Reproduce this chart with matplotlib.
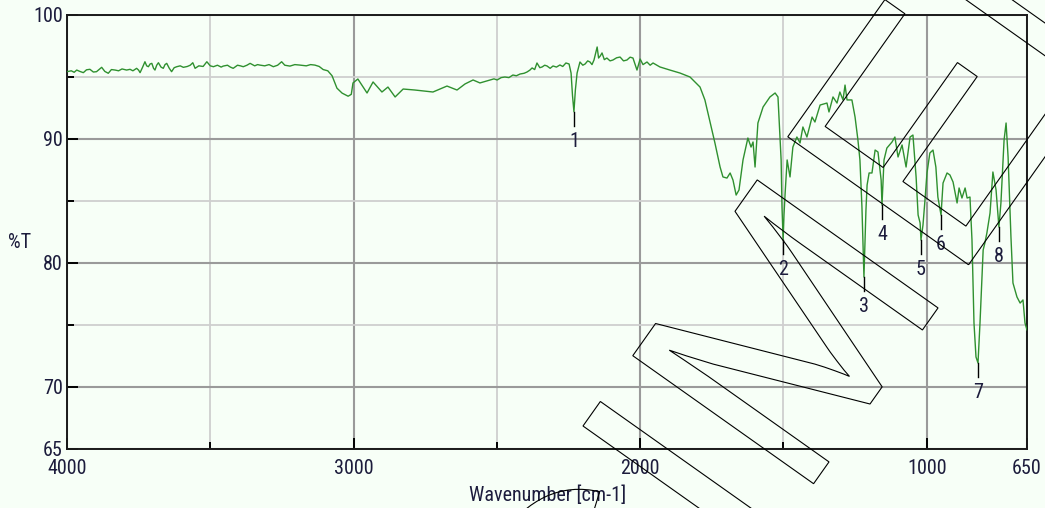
import numpy as np
import matplotlib
matplotlib.use("Agg")
import matplotlib.pyplot as plt
from matplotlib import font_manager
from matplotlib.textpath import TextPath
from matplotlib.font_manager import FontProperties
from matplotlib.patches import PathPatch
from matplotlib.transforms import Affine2D
from matplotlib.patheffects import AbstractPathEffect

# ---------------- data ----------------
wavenumber = [
    4000, 3985, 3975, 3966, 3955, 3943, 3932, 3920, 3908, 3897, 3888, 3879, 3868, 3856,
    3845, 3832, 3820, 3808, 3792, 3780, 3770, 3757, 3750, 3745, 3736, 3728, 3722, 3716,
    3710, 3704, 3698, 3693, 3687, 3681, 3672, 3664, 3658, 3652, 3643, 3635, 3626, 3617,
    3605, 3594, 3580, 3570, 3561, 3553, 3540, 3525, 3512, 3500, 3489, 3475, 3462, 3455,
    3440, 3430, 3420, 3405, 3395, 3385, 3372, 3361, 3345, 3335, 3327, 3310, 3295, 3280,
    3265, 3251, 3240, 3222, 3205, 3187, 3165, 3150, 3135, 3120, 3106, 3090, 3075, 3058,
    3040, 3019, 3008, 3002, 2985, 2953, 2932, 2901, 2880, 2855, 2827, 2786, 2723, 2674,
    2639, 2611, 2583, 2559, 2524, 2510, 2499, 2485, 2472, 2458, 2444, 2432, 2419, 2405,
    2395, 2385, 2377, 2368, 2360, 2350, 2342, 2333, 2325, 2314, 2304, 2292, 2280, 2270,
    2259, 2248, 2241, 2236, 2231, 2226, 2220, 2210, 2200, 2192, 2183, 2175, 2168, 2161,
    2150, 2145, 2139, 2133, 2125, 2116, 2105, 2095, 2082, 2070, 2058, 2046, 2035, 2025,
    2011, 2000, 1990, 1976, 1965, 1955, 1931, 1896, 1861, 1826, 1791, 1774, 1756, 1739,
    1721, 1711, 1697, 1686, 1676, 1665, 1655, 1641, 1624, 1613, 1606, 1599, 1589, 1571,
    1547, 1529, 1519, 1508, 1505, 1501, 1498, 1494, 1487, 1477, 1467, 1453, 1442, 1432,
    1418, 1400, 1390, 1372, 1348, 1341, 1327, 1313, 1303, 1292, 1285, 1278, 1261, 1250,
    1240, 1233, 1226, 1219, 1212, 1208, 1201, 1191, 1180, 1170, 1159, 1156, 1149, 1139,
    1121, 1111, 1100, 1086, 1072, 1058, 1048, 1037, 1030, 1023, 1020, 1013, 1006, 999,
    989, 978, 968, 961, 950, 943, 929, 919, 908, 894, 887, 877, 866, 859,
    849, 842, 835, 828, 821, 814, 803, 797, 790, 779, 769, 758, 748, 741,
    730, 723, 716, 706, 699, 685, 674, 664, 657, 650,
]
transmittance = [
    95.43, 95.50, 95.38, 95.56, 95.45, 95.35, 95.58, 95.62, 95.40, 95.43, 95.60, 95.78, 95.45, 95.30,
    95.60, 95.56, 95.50, 95.65, 95.56, 95.62, 95.50, 95.70, 95.55, 95.35, 95.80, 96.23, 95.90, 95.83,
    96.05, 96.10, 95.70, 95.56, 95.95, 96.15, 95.80, 95.70, 96.00, 96.10, 95.70, 95.43, 95.75, 95.83,
    95.90, 95.78, 95.85, 95.95, 96.15, 95.70, 95.90, 95.85, 96.23, 95.90, 95.83, 95.95, 95.80, 95.88,
    95.95, 95.80, 95.70, 95.95, 95.90, 95.83, 95.95, 96.10, 95.90, 96.00, 95.96, 95.90, 96.00, 95.83,
    95.95, 96.23, 95.95, 95.88, 96.00, 95.96, 95.90, 96.00, 95.96, 95.85, 95.60, 95.50, 95.10, 94.10,
    93.70, 93.45, 93.60, 94.52, 94.84, 93.71, 94.60, 93.79, 94.19, 93.39, 94.03, 93.95, 93.79, 94.27,
    93.95, 94.44, 94.76, 94.52, 94.76, 94.85, 94.76, 94.95, 95.00, 94.95, 95.16, 95.10, 95.24, 95.30,
    95.40, 95.55, 95.73, 95.60, 96.13, 95.75, 95.81, 95.95, 95.89, 95.70, 95.89, 95.80, 95.97, 95.85,
    96.13, 96.05, 95.32, 93.50, 92.20, 93.95, 95.32, 96.21, 95.95, 96.05, 96.30, 96.21, 96.00, 96.37,
    97.42, 96.53, 96.70, 96.94, 96.40, 96.53, 96.30, 96.37, 96.55, 96.61, 96.30, 96.37, 96.60, 96.53,
    95.56, 96.45, 96.00, 96.21, 95.95, 96.13, 95.81, 95.56, 95.32, 95.00, 94.19, 93.15, 91.37, 89.68,
    87.74, 86.94, 86.85, 87.26, 86.69, 85.48, 85.89, 88.31, 90.08, 89.35, 89.76, 87.74, 91.29, 92.58,
    93.39, 93.71, 93.39, 88.31, 84.52, 81.86, 83.87, 85.65, 88.31, 86.94, 89.35, 90.16, 89.68, 90.97,
    90.16, 91.77, 91.37, 92.74, 92.90, 92.18, 93.39, 92.90, 93.79, 93.15, 94.35, 93.15, 93.15, 91.77,
    89.92, 88.31, 84.52, 78.87, 84.27, 86.29, 87.26, 87.26, 89.11, 88.95, 86.69, 84.68, 88.31, 89.27,
    89.76, 90.16, 88.55, 89.52, 87.74, 90.16, 90.32, 86.94, 83.87, 83.23, 81.86, 83.06, 85.08, 87.26,
    88.87, 89.11, 87.74, 85.32, 83.87, 86.45, 87.26, 87.10, 86.53, 84.84, 86.05, 85.24, 86.05, 85.24,
    85.32, 81.86, 75.16, 72.42, 71.94, 75.16, 81.05, 81.61, 82.42, 84.03, 87.34, 85.89, 82.90, 84.84,
    89.92, 91.29, 88.55, 82.10, 78.39, 77.26, 76.77, 77.02, 75.16, 74.60,
]
peak_labels = ["1", "2", "3", "4", "5", "6", "7", "8"]
peak_wn = [2231, 1501, 1219, 1156, 1020, 950, 821, 748]
peak_T = [92.2, 81.86, 78.87, 84.68, 81.86, 83.87, 71.94, 82.90]

x_major = [4000, 3000, 2000, 1000, 650]
x_minor = [3500, 2500, 1500]
y_major = [65, 70, 80, 90, 100]
y_minor = [75, 85, 95]

# ---------------- style ----------------
names = {f.name for f in font_manager.fontManager.ttflist}
NARROW = None
for cand in ["Liberation Sans Narrow", "Arial Narrow", "Roboto Condensed", "Open Sans Condensed"]:
    if cand in names:
        NARROW = cand
        break
if NARROW:
    FAM = [NARROW, "DejaVu Sans"]
    SX = 1.0
else:
    FAM = ["Liberation Sans", "DejaVu Sans"]
    SX = 0.82
plt.rcParams["font.family"] = FAM


class Condense(AbstractPathEffect):
    """Squeeze text horizontally (to mimic a narrow typeface)."""

    def __init__(self, sx, anchor="center"):
        super().__init__()
        self.sx = sx
        self.anchor = anchor

    def draw_path(self, renderer, gc, tpath, affine, rgbFace=None):
        ext = tpath.get_extents()
        if self.anchor == "center":
            px = 0.5 * (ext.x0 + ext.x1)
        elif self.anchor == "right":
            px = ext.x1
        else:
            px = ext.x0
        aff = Affine2D().translate(-px, 0).scale(self.sx, 1).translate(px, 0) + affine
        renderer.draw_path(gc, tpath, aff, rgbFace)


def squeeze(txt, anchor):
    if SX != 1.0:
        txt.set_path_effects([Condense(SX, anchor)])


BG = "#f7fff7"
TXT = "#1c1c3c"
FS = 14.5

fig = plt.figure(figsize=(10.45, 5.08), dpi=100, facecolor=BG)
ax = fig.add_axes([67 / 1045, 59 / 508, 960 / 1045, 434 / 508], facecolor=BG)

ax.plot(wavenumber, transmittance, color="#2f902f", lw=1.0, zorder=3)

ax.set_xlim(4000, 650)
ax.set_ylim(65, 100)

ax.set_xticks(x_major)
ax.set_xticks(x_minor, minor=True)
ax.set_yticks(y_major)
ax.set_yticks(y_minor, minor=True)
ax.set_xticklabels([str(v) for v in x_major])
ax.set_yticklabels([str(v) for v in y_major])

ax.set_axisbelow(True)
ax.grid(which="major", color="#9a9a9a", lw=1.5)
ax.grid(which="minor", color="#cfcfcf", lw=1.3)

ax.tick_params(which="major", direction="in", length=8, width=1.4, color="black",
               labelsize=FS, labelcolor=TXT)
ax.tick_params(which="minor", direction="in", length=5, width=1.4, color="black")
ax.tick_params(axis="x", which="major", pad=7.5)
ax.tick_params(axis="y", which="major", pad=3)
for s in ax.spines.values():
    s.set_color("#1a1a1a")
    s.set_linewidth(1.4)

for lbl in ax.get_xticklabels():
    squeeze(lbl, "center")
for lbl in ax.get_yticklabels():
    squeeze(lbl, "right")

# peak markers
for lab, xw, yt in zip(peak_labels, peak_wn, peak_T):
    ax.plot([xw, xw], [yt, yt - 1.15], color="black", lw=1.0, zorder=4)
    t = ax.text(xw, yt - 1.6, lab, ha="center", va="top", fontsize=FS, color=TXT, zorder=5)
    squeeze(t, "center")

t = fig.text(20 / 1045, 1 - 242 / 508, "%T", ha="center", va="center", fontsize=FS, color=TXT)
squeeze(t, "center")
t = fig.text(548 / 1045, 1 - 495 / 508, "Wavenumber [cm-1]", ha="center", va="center",
             fontsize=FS, color=TXT)
squeeze(t, "center")

# ---------------- outlined watermark text ----------------
EM = 322
fp = FontProperties(family="Liberation Sans")
tp = TextPath((0, 0), "SPECIMEN", size=EM, prop=fp)
polys = tp.to_polygons()
i_left, i_top = None, None
for p in polys:
    w = p[:, 0].max() - p[:, 0].min()
    h = p[:, 1].max() - p[:, 1].min()
    if len(np.unique(np.round(p, 3), axis=0)) <= 5 and w < 0.15 * EM and h > 0.5 * EM:
        i_left, i_top = p[:, 0].min(), p[:, 1].max()
        break
if i_left is None:
    i_left, i_top = 0.0, 0.688 * EM
trans = Affine2D().translate(-i_left, -i_top).rotate_deg(54.7).translate(583, 508 - 426)
wm = PathPatch(tp, transform=trans, facecolor="none", edgecolor="black", lw=0.8, zorder=20)
fig.add_artist(wm)

fig.savefig("out.png", dpi=100, facecolor=BG)
